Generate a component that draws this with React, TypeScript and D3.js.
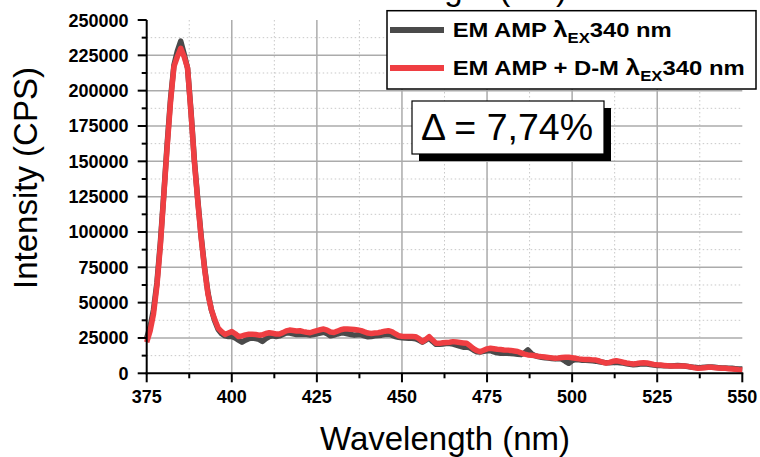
import React from "react";
import * as d3 from "d3";

const startNm = 375;
// EM AMP λEX340 nm (grey), values in CPS, 1 nm step from 375 nm
const greyValues = [
  25000, 33000, 45000, 64000, 92000, 126000, 162000, 194000, 218000, 228000,
  235000, 226000, 216000, 186000, 151000, 123000, 97000, 75000, 57000, 45000,
  37000, 31000, 28000, 26500, 26000, 26000, 25000, 23500, 22000, 23500,
  24500, 25000, 24500, 24000, 22500, 24500, 26000, 26500, 26000, 26500,
  27500, 28500, 28500, 28000, 27500, 27500, 27700, 27500, 27000, 27500,
  28000, 28500, 29000, 28000, 26500, 27000, 27800, 28500, 28500, 28000,
  27500, 27000, 27300, 27200, 26500, 25800, 26000, 26500, 26800, 27000,
  27500, 27700, 27000, 26000, 25500, 25200, 25000, 24800, 24800, 24500,
  23500, 22000, 23500, 25000, 22500, 20500, 20500, 20800, 21000, 21000,
  20700, 20000, 19200, 18500, 18500, 18000, 16500, 15200, 15000, 15500,
  16000, 16000, 15200, 14500, 14200, 14200, 14200, 14000, 13800, 13500,
  13200, 14500, 16500, 14000, 12500, 11800, 11300, 11000, 10800, 10500,
  10200, 10500, 10000, 8500, 7100, 9000, 9800, 9600, 9300, 9200,
  9000, 8800, 8600, 8200, 7800, 7400, 7400, 7600, 7800, 7500,
  7200, 6800, 6400, 6000, 6200, 6500, 6800, 6600, 6200, 5800,
  5600, 5500, 5400, 5300, 5200, 5400, 5500, 5400, 5100, 4800,
  4500, 4200, 4000, 4100, 4300, 4500, 4400, 4200, 4000, 3800,
  3700, 3600, 3500, 3300, 3100, 3000,
];
// EM AMP + D-M λEX340 nm (red)
const redValues = [
  22000, 30000, 42000, 62000, 90000, 125000, 160000, 192000, 217000, 224000,
  230000, 224000, 216000, 185000, 150000, 122000, 96000, 74000, 56000, 45000,
  38000, 32000, 29500, 27500, 28500, 29500, 28000, 26000, 26500, 27200,
  27600, 27600, 27500, 27000, 27200, 28200, 28700, 28300, 27800, 27800,
  28800, 30000, 30600, 30300, 30000, 30100, 29500, 29000, 28700, 29500,
  30200, 30800, 31300, 30500, 29200, 28900, 29800, 30800, 31300, 31300,
  31200, 31000, 30700, 30200, 29300, 28500, 28200, 28500, 28700, 29200,
  29800, 30100, 29500, 28000, 26600, 26200, 26000, 26000, 26000, 25900,
  24500, 22400, 24000, 25900, 23500, 21300, 21200, 21600, 21800, 22000,
  22400, 22100, 21800, 21500, 21200, 19500, 17500, 16000, 15300, 16300,
  17300, 17700, 17400, 17000, 16800, 16500, 16400, 16200, 15800, 15400,
  14500, 13600, 13000, 12800, 12500, 12100, 11800, 11500, 11200, 10900,
  10600, 10800, 11200, 11400, 11300, 11000, 10600, 10200, 9900, 9800,
  9700, 9500, 9400, 8700, 7800, 7200, 7700, 8500, 8900, 8400,
  7800, 7300, 6900, 6600, 6900, 7300, 7500, 7300, 6800, 6300,
  6000, 5800, 5600, 5400, 5200, 5200, 5200, 5200, 5200, 4900,
  4400, 3900, 3500, 3700, 4000, 4200, 4200, 4000, 3800, 3600,
  3500, 3300, 3100, 2800, 2500, 2300,
];
const xTicks = [375, 400, 425, 450, 475, 500, 525, 550];
const yTicks = [0, 25000, 50000, 75000, 100000, 125000, 150000, 175000, 200000, 225000, 250000];
const legendLabels = ["EM AMP ", "EM AMP + D-M "];
const deltaText = "Δ = 7,74%";

const W = 760;
const H = 457;

export default function App() {
  const x = d3.scaleLinear().domain([375, 550]).range([146.7, 742.3]);
  const y = d3.scaleLinear().domain([0, 250000]).range([373.3, 20]);
  const toPts = (vals: number[]) => vals.map((v, i) => [startNm + i, v] as [number, number]);
  const line = d3
    .line<[number, number]>()
    .x((d) => x(d[0]))
    .y((d) => y(d[1]));

  const xMinor = d3.range(387.5, 550, 25);
  const yMinor = d3.range(12500, 250000, 25000);
  const font = "'Liberation Sans', Arial, sans-serif";
  const grey = "#4a4a4a";
  const red = "#ef3e42";
  const legendWidths = [219, 292];

  return (
    <svg
      width={W}
      height={H}
      style={{ position: "absolute", left: 0, top: 0, background: "#fff" }}
      fontFamily={font}
    >
      <rect width={W} height={H} fill="#fff" />
      {/* cut-off text from above */}
      <text x={567} y={0} textAnchor="end" fontSize={33} fill="#000">
        Wavelength (nm)
      </text>
      {/* grid */}
      <g>
        {xMinor.map((t) => (
          <line key={"xm" + t} x1={x(t)} x2={x(t)} y1={y(250000)} y2={y(0)} stroke="#c8c8c8" strokeWidth={1} strokeDasharray="1.5,2.5" />
        ))}
        {yMinor.map((t) => (
          <line key={"ym" + t} x1={x(375)} x2={x(550)} y1={y(t)} y2={y(t)} stroke="#c8c8c8" strokeWidth={1} strokeDasharray="1.5,2.5" />
        ))}
        {xTicks.slice(1, -1).map((t) => (
          <line key={"xg" + t} x1={x(t)} x2={x(t)} y1={y(250000)} y2={y(0)} stroke="#ababab" strokeWidth={1.5} />
        ))}
        {yTicks.slice(1, -1).map((t) => (
          <line key={"yg" + t} x1={x(375)} x2={x(550)} y1={y(t)} y2={y(t)} stroke="#ababab" strokeWidth={1.5} />
        ))}
      </g>
      {/* data */}
      <path d={line(toPts(greyValues)) || ""} fill="none" stroke={grey} strokeWidth={5.5} strokeLinejoin="round" />
      <path d={line(toPts(redValues)) || ""} fill="none" stroke={red} strokeWidth={5.5} strokeLinejoin="round" />
      {/* axes */}
      <g stroke="#000">
        <line x1={x(375)} x2={x(375)} y1={y(250000)} y2={y(0) + 1} strokeWidth={2} />
        <line x1={x(375) - 1} x2={x(550) + 1} y1={y(0)} y2={y(0)} strokeWidth={2} />
        {xTicks.map((t) => (
          <line key={"xt" + t} x1={x(t)} x2={x(t)} y1={y(0)} y2={y(0) + 9} strokeWidth={2} />
        ))}
        {xMinor.map((t) => (
          <line key={"xmt" + t} x1={x(t)} x2={x(t)} y1={y(0)} y2={y(0) + 5} strokeWidth={2} />
        ))}
        {yTicks.map((t) => (
          <line key={"yt" + t} x1={x(375) - 9} x2={x(375)} y1={y(t)} y2={y(t)} strokeWidth={2} />
        ))}
        {yMinor.map((t) => (
          <line key={"ymt" + t} x1={x(375) - 5} x2={x(375)} y1={y(t)} y2={y(t)} strokeWidth={2} />
        ))}
      </g>
      <g fontWeight="bold" fontSize={18} fill="#000">
        {xTicks.map((t) => (
          <text key={"xl" + t} x={x(t)} y={403} textAnchor="middle">
            {t}
          </text>
        ))}
        {yTicks.map((t) => (
          <text key={"yl" + t} x={128.5} y={y(t) + 6.5} textAnchor="end">
            {t}
          </text>
        ))}
      </g>
      {/* axis titles */}
      <text x={445} y={450} textAnchor="middle" fontSize={33} fill="#000">
        Wavelength (nm)
      </text>
      <text transform="translate(37,178) rotate(-90)" textAnchor="middle" fontSize={33} fill="#000">
        Intensity (CPS)
      </text>
      {/* legend */}
      <rect x={387} y={10.7} width={369} height={78.3} fill="#fff" stroke="#000" strokeWidth={1.5} />
      {[grey, red].map((c, i) => {
        const ly = i === 0 ? 30 : 68;
        return (
          <g key={"lg" + i}>
            <line x1={390} x2={444} y1={ly} y2={ly} stroke={c} strokeWidth={6} />
            <text
              x={452.7}
              y={ly + 6.7}
              fontSize={20}
              fontWeight="bold"
              fill="#000"
              textLength={legendWidths[i]}
              lengthAdjust="spacingAndGlyphs"
            >
              {legendLabels[i]}
              <tspan fontSize={22}>λ</tspan>
              <tspan fontSize={14} dy={6.5}>EX</tspan>
              <tspan dy={-6.5}>340 nm</tspan>
            </text>
          </g>
        );
      })}
      {/* delta box */}
      <rect x={419} y={108} width={192} height={53} fill="#000" />
      <rect x={412} y={101} width={192} height={53} fill="#fff" stroke="#000" strokeWidth={1.2} />
      <text x={507} y={140} textAnchor="middle" fontSize={37.5} fill="#000">
        {deltaText}
      </text>
    </svg>
  );
}
